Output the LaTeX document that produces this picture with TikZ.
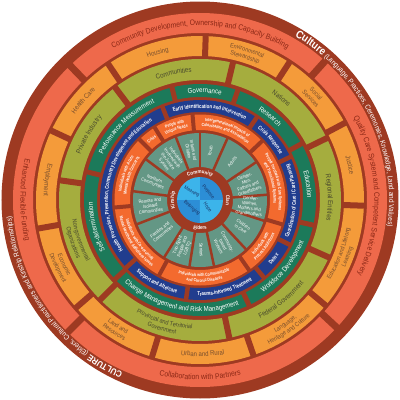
\documentclass[tikz,border=0pt]{standalone}
\usepackage{fontspec}
\setmainfont{Liberation Sans}[FakeStretch=0.88]
\newfontfamily\narrowfam{Liberation Sans}[FakeStretch=0.78]
\usetikzlibrary{decorations.text}
\definecolor{rust}{RGB}{158,58,34}
\definecolor{salmon}{RGB}{238,105,75}
\definecolor{orng}{RGB}{244,155,58}
\definecolor{olivg}{RGB}{165,173,62}
\definecolor{dgreen}{RGB}{28,122,90}
\definecolor{dblue}{RGB}{33,61,142}
\definecolor{ored}{RGB}{243,106,46}
\definecolor{tealg}{RGB}{100,151,133}
\definecolor{lblue}{RGB}{60,180,234}
\definecolor{mblue}{RGB}{44,142,214}
\definecolor{salmtxt}{RGB}{140,40,22}
\definecolor{orgtxt}{RGB}{120,78,45}
\definecolor{olvtxt}{RGB}{72,72,45}
\definecolor{navyt}{RGB}{25,50,100}
\newcommand\fOut{\fontsize{7.3}{8}\selectfont\mdseries\color{white}}
\newcommand\fOutB{\fontsize{11}{12}\selectfont\bfseries\color{white}}
\newcommand\fOutC{\fontsize{9}{10}\selectfont\bfseries\color{white}}
\newcommand\fSal{\fontsize{7.8}{8}\selectfont\color{salmtxt}}
\newcommand\fOr{\fontsize{6.8}{7}\selectfont\color{orgtxt}}
\newcommand\fOrS{\fontsize{6.2}{7}\selectfont\color{orgtxt}}
\newcommand\fOl{\fontsize{7}{7}\selectfont\color{olvtxt}}
\newcommand\fOlS{\fontsize{6.2}{7}\selectfont\color{olvtxt}}
\newcommand\fGr{\fontsize{7}{7}\selectfont\color{white}}
\newcommand\fBl{\narrowfam\fontsize{5.6}{6}\selectfont\bfseries\color{white}}
\newcommand\fRd{\narrowfam\fontsize{4.5}{5}\selectfont\bfseries\color{white}}
\newcommand\fBr{\fontsize{5.2}{6}\selectfont\bfseries\color{white}}
\newcommand\atext[4]{\path[decorate,decoration={text along path,text align=center,text={#4}}] (#2:#1pt) arc[start angle=#2,end angle=#3,radius=#1pt];}
\newcommand\ringfill[3]{\fill[#1,even odd rule] (0,0) circle[radius=#3pt] (0,0) circle[radius=#2pt];}
\newcommand\ringgaps[4]{\foreach \a in {#4} \draw[rust,line width=#3pt] (\a:#1pt) -- (\a:#2pt);}
\tikzset{tealtxt/.style={text=white,align=center,font=\fontsize{4.7}{5.1}\selectfont,inner sep=0pt},
  ctrtxt/.style={text=navyt,font=\fontsize{5}{5}\selectfont,inner sep=0pt}}
\begin{document}
\begin{tikzpicture}
\useasboundingbox (-200pt,-200pt) rectangle (200pt,200pt);
\fill[rust] (0,0) circle[radius=198.5pt];
% rings
\ringfill{salmon}{167}{187}
\ringgaps{165}{189}{7}{48,134,225,317}
\ringfill{orng}{144}{164}
\ringgaps{143}{165}{6}{124,88,57,28,-2,-40,-71,-107,-139,190,155}
\ringfill{olivg}{120}{141}
\ringgaps{119}{142}{6}{127,76.5,26,-24,-78,-135,172}
\ringfill{dgreen}{103}{116}
\ringgaps{102}{117}{5}{104,71,29,-12.5,-65,-137,166}
\ringfill{dblue}{88}{100}
\ringgaps{87}{101}{4.5}{112,55.5,25.5,-26.5,-50.5,-98,-137.5}
\ringfill{ored}{70}{85.5}
\ringgaps{69}{86.5}{4}{95,43.5,-16.5,-55,-118.5,-175,135,122}
\ringfill{tealg}{33}{67}
\ringgaps{32.5}{67.5}{2.5}{143,111,90,66,34,4.5,-18,-47,-78,-99,-122,-159,172.5}
% centre
\fill[mblue] (0,0) -- (0:23pt) arc[start angle=0,end angle=90,radius=23pt] -- cycle;
\fill[lblue] (0,0) -- (90:23pt) arc[start angle=90,end angle=180,radius=23pt] -- cycle;
\fill[mblue] (0,0) -- (180:23pt) arc[start angle=180,end angle=270,radius=23pt] -- cycle;
\fill[lblue] (0,0) -- (270:23pt) arc[start angle=270,end angle=360,radius=23pt] -- cycle;
\node[ctrtxt,rotate=-30] (meaning) at (135:11.5pt) {Meaning};
\node[ctrtxt,rotate=-50] (purpose) at (45:11.5pt) {Purpose};
\node[ctrtxt,rotate=-55] (hope) at (-45:10.5pt) {Hope};
\node[ctrtxt,rotate=-40] (belonging) at (-135:11.5pt) {Belonging};
% brown ring words
\atext{26.2}{140}{40}{|\fBr|Community}
\atext{26.2}{30}{-30}{|\fBr|Clan}
\atext{29.8}{-135}{-45}{|\fBr|Elders}
\atext{26.2}{220}{140}{|\fBr|Kinship}
% teal labels
\node[tealtxt,rotate=-53] (p1) at (127:50pt) {Individuals\\Involved with\\the Justice\\System};
\node[tealtxt,rotate=-79.5] (p2) at (100.5:50pt) {Infants and\\Children};
\node[tealtxt,rotate=78] (p3) at (78:50pt) {Youth};
\node[tealtxt,rotate=50] (p4) at (50:50pt) {Adults};
\node[tealtxt,rotate=19] (p5) at (19:50pt) {Gender-\\Men,\\Fathers and\\Grandfathers};
\node[tealtxt,rotate=-6.75] (p6) at (-6.75:50pt) {Gender-\\Women,\\Mothers and\\Grandmothers};
\node[tealtxt,rotate=-32.5] (p7) at (-32.5:50pt) {Children\\in Care};
\node[tealtxt,rotate=-62.5] (p8) at (-62.5:50pt) {Community-\\based\\Workers};
\node[tealtxt,rotate=-88.5] (p9) at (-88.5:50pt) {Seniors};
\node[tealtxt,rotate=69.5] (p10) at (-110.5:50pt) {Two-Spirit\\People and\\LGBTQ};
\node[tealtxt,rotate=39.5] (p11) at (-140.5:50pt) {Families and\\Communities};
\node[tealtxt,rotate=6.75] (p12) at (186.75:50pt) {Remote and\\Isolated\\Communities};
\node[tealtxt,rotate=-22.25] (p13) at (157.75:50pt) {Northern\\Communities};
% orange-red ring
\atext{79}{95}{43.5}{|\fRd|Intergenerational Impacts of}
\atext{73.5}{95}{43.5}{|\fRd|Colonization and Assimilation}
\atext{79}{43}{-16}{|\fRd|People Involved with Care Systems}
\atext{73.5}{43}{-16}{|\fRd|and Transitional Systems}
\atext{76.6}{-54.5}{-17}{|\fRd|Individuals with}
\atext{82.1}{-54.5}{-17}{|\fRd|Process Addictions}
\atext{76.6}{-118}{-55.5}{|\fRd|Individuals with Communicable}
\atext{82.1}{-118}{-55.5}{|\fRd|and Chronic Diseases}
\atext{76.6}{-175}{-119}{|\fRd|Individuals with Co-occurring}
\atext{82.1}{-175}{-119}{|\fRd|Mental Health and Addictions Issues}
\atext{79}{185}{135.5}{|\fRd|Individuals with Acute}
\atext{73.5}{185}{135.5}{|\fRd|Mental Health Concerns}
\atext{76.2}{134.5}{122.5}{|\fRd|Crisis}
\atext{79}{121.5}{95.5}{|\fRd|People with}
\atext{73.5}{121.5}{95.5}{|\fRd|Unique Needs}
% blue ring
\atext{92}{111.5}{56}{|\fBl|Early Identification and Intervention}
\atext{92}{55}{26}{|\fBl|Crisis Response}
\atext{96}{-26}{25}{|\fBl|Coordination of Care / Care Planning}
\atext{96}{-50}{-27}{|\fBl|Detox}
\atext{96}{-97.5}{-51}{|\fBl|Trauma-informed Treatment}
\atext{96}{-137}{-98.5}{|\fBl|Support and Aftercare}
\atext{92}{222}{112.5}{|\fBl|Health Promotion, Prevention, Community Development and Education}
% green ring
\atext{107.2}{103}{72}{|\fGr|Governance}
\atext{107.2}{70}{30}{|\fGr|Research}
\atext{107.2}{28}{-11.5}{|\fGr|Education}
\atext{111.8}{-64}{-13.5}{|\fGr|Workforce Development}
\atext{111.8}{-136}{-66}{|\fGr|Change Management and Risk Management}
\atext{107.2}{222}{167}{|\fGr|Self-determination}
\atext{107.2}{165}{105}{|\fGr|Performance Measurement}
% olive ring
\atext{128}{126}{77.5}{|\fOl|Communities}
\atext{128}{75.5}{27}{|\fOl|Nations}
\atext{128}{25}{-23}{|\fOl|Regional Entities}
\atext{133}{-77}{-25}{|\fOl|Federal Government}
\atext{129}{-134}{-79}{|\fOlS|Provincial and Territorial}
\atext{136.3}{-134}{-79}{|\fOlS|Government}
\atext{129}{-187}{-136}{|\fOlS|Non-governmental}
\atext{136.3}{-187}{-136}{|\fOlS|Organizations}
\atext{128}{171}{128}{|\fOl|Private Industry}
% orange ring
\atext{151.7}{123}{89}{|\fOr|Housing}
\atext{155.4}{87}{58}{|\fOrS|Environmental}
\atext{148.1}{87}{58}{|\fOrS|Stewardship}
\atext{155.4}{56}{29}{|\fOrS|Social}
\atext{148.1}{56}{29}{|\fOrS|Services}
\atext{151.7}{27}{-1}{|\fOr|Justice}
\atext{152.6}{-39}{-3}{|\fOrS|Education and Lifelong}
\atext{159.9}{-39}{-3}{|\fOrS|Learning}
\atext{152.6}{-70}{-41}{|\fOrS|Language,}
\atext{159.9}{-70}{-41}{|\fOrS|Heritage and Culture}
\atext{156.3}{-106}{-72}{|\fOr|Urban and Rural}
\atext{152.6}{-138}{-108}{|\fOrS|Land and}
\atext{159.9}{-138}{-108}{|\fOrS|Resources}
\atext{152.6}{-169}{-140}{|\fOrS|Economic}
\atext{159.9}{-169}{-140}{|\fOrS|Development}
\atext{156.3}{156}{189}{|\fOr|Employment}
\atext{151.7}{154}{125}{|\fOr|Health Care}
% salmon ring
\atext{174.3}{132}{48}{|\fSal|Community Development, Ownership and Capacity Building}
\atext{174.3}{42}{-39}{|\fSal|Quality Care System and Competent Service Delivery}
\atext{179.7}{-132}{-48}{|\fSal|Collaboration with Partners}
\atext{179.7}{138}{222}{|\fSal|Enhanced Flexible Funding}
% outer ring
\atext{189.2}{66}{-14}{|\fOutB|Culture|\fOut| (Language, Practices, Ceremonies, Knowledge, Land and Values)}
\atext{189.2}{-100}{-189}{|\fOutC|CULTURE|\fOut| (Elders, Cultural Practitioners and Kinship Relationships)}
\end{tikzpicture}
\end{document}
